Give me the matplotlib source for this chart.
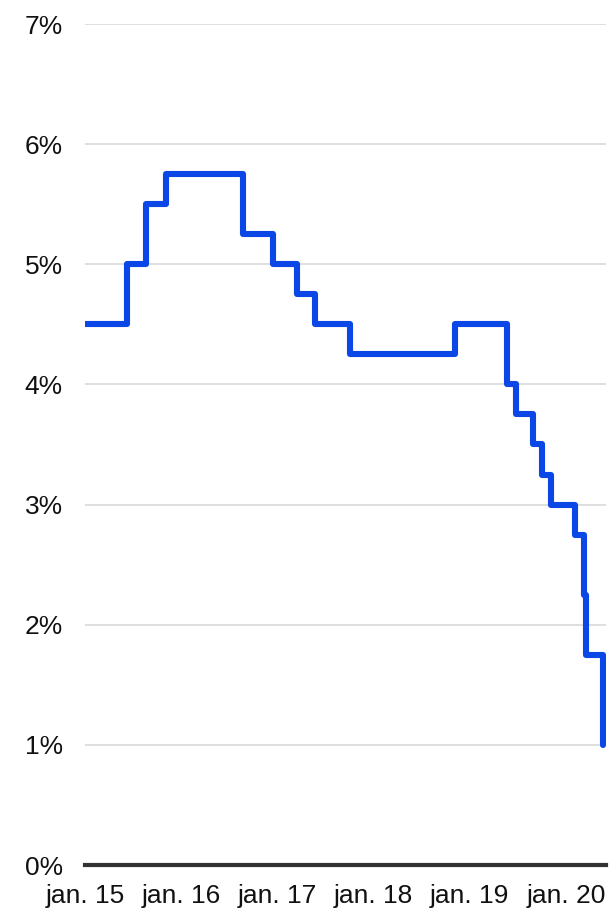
import matplotlib
matplotlib.use("Agg")
import matplotlib.pyplot as plt
import pandas as pd

# Policy rate decisions (effective date, rate in %)
change_dates = [
    "2015-01-01", "2015-06-10", "2015-08-19", "2015-11-04", "2016-08-24",
    "2016-12-14", "2017-03-15", "2017-05-24", "2017-10-04", "2018-11-07",
    "2019-05-22", "2019-06-26", "2019-08-28", "2019-10-02", "2019-11-06",
    "2020-02-05", "2020-03-11", "2020-03-18", "2020-05-20",
]
rates = [
    4.5, 5.0, 5.5, 5.75, 5.25,
    5.0, 4.75, 4.5, 4.25, 4.5,
    4.0, 3.75, 3.5, 3.25, 3.0,
    2.75, 2.25, 1.75, 1.0,
]
tick_years = [2015, 2016, 2017, 2018, 2019, 2020]
tick_labels = ["jan. 15", "jan. 16", "jan. 17", "jan. 18", "jan. 19", "jan. 20"]
y_ticks = [0, 1, 2, 3, 4, 5, 6, 7]
y_labels = [f"{v}%" for v in y_ticks]

plt.rcParams["font.family"] = ["Liberation Sans", "DejaVu Sans"]

W, H = 610, 913
fig = plt.figure(figsize=(W / 100, H / 100), dpi=100)
ax = fig.add_axes([85 / W, 1 - 865 / H, 521 / W, (865 - 24) / H])

dates = pd.to_datetime(change_dates)
ax.plot(dates, rates, drawstyle="steps-post", color="#0b47e6", lw=4.4,
        solid_capstyle="round", solid_joinstyle="round", zorder=3)

ax.set_ylim(0, 7)
ax.set_xlim(pd.Timestamp("2015-01-01"), pd.Timestamp("2020-06-01"))

ax.set_yticks(y_ticks)
ax.set_yticklabels(y_labels)
ax.set_xticks(pd.to_datetime([f"{y}-01-01" for y in tick_years]))
ax.set_xticklabels(tick_labels)

ax.tick_params(axis="both", length=0, labelsize=19, colors="#111111")
ax.tick_params(axis="y", pad=16)
ax.tick_params(axis="x", pad=13.5)

for s in ax.spines.values():
    s.set_visible(False)

for v in y_ticks[1:]:
    ax.axhline(v, color="#d9d9d9", lw=1.2, zorder=1)
ax.axhline(0, color="#333333", lw=3, zorder=2, clip_on=False)

fig.savefig("out.png", dpi=100)
